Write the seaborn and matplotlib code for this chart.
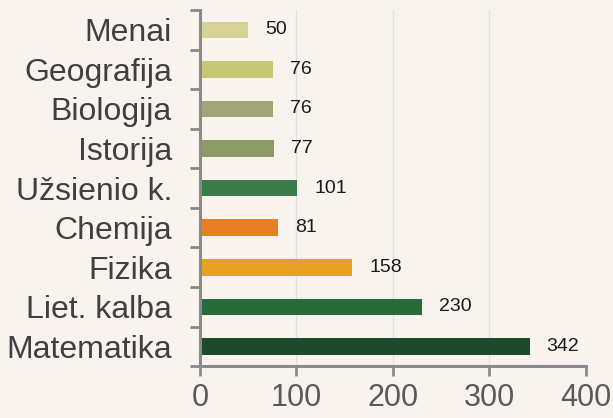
import numpy as np
import pandas as pd
import matplotlib
matplotlib.use("Agg")
import matplotlib.pyplot as plt
import seaborn as sns

subjects = ["Menai", "Geografija", "Biologija", "Istorija", "Užsienio k.",
            "Chemija", "Fizika", "Liet. kalba", "Matematika"]
counts = [50, 76, 76, 77, 101, 81, 158, 230, 342]
bar_colors = ["#D6D194", "#C8C874", "#A0A676", "#8C9A68", "#3A7A4B",
              "#E67F22", "#E8A221", "#2A6B3C", "#1D4A2B"]
x_ticks = [0, 100, 200, 300, 400]

BG = "#F8F4ED"
AXIS_GREY = "#8A8A8A"

sns.set_theme(style="white")
plt.rcParams["font.family"] = ["Liberation Sans", "DejaVu Sans"]

df = pd.DataFrame({"subject": subjects, "count": counts})

fig = plt.figure(figsize=(6.13, 4.18), dpi=100, facecolor=BG)
ax = fig.add_axes([0.326, 0.124, 0.630, 0.852])
ax.set_facecolor(BG)

sns.barplot(data=df, y="subject", x="count", hue="subject", palette=bar_colors,
            order=subjects, hue_order=subjects, orient="h", width=0.42,
            legend=False, ax=ax, saturation=1, linewidth=0)

for i, v in enumerate(counts):
    ax.annotate(str(v), (v, i), xytext=(12, 0), textcoords="offset points",
                ha="left", va="center", fontsize=14, color="#1a1a1a")

ax.set_xlim(0, 400)
ax.set_ylim(len(subjects) - 0.5, -0.5)
ax.set_xticks(x_ticks)
ax.set_xticklabels([str(t) for t in x_ticks], fontsize=22, color="#5a5a5a")
ax.set_yticks(range(len(subjects)))
ax.set_yticklabels(subjects, fontsize=23, color="#404040")
ax.set_yticks(np.arange(-0.5, len(subjects), 1.0), minor=True)

ax.tick_params(axis="y", which="major", left=False, length=0, pad=20)
ax.tick_params(axis="y", which="minor", left=True, length=7, width=2,
               color=AXIS_GREY, direction="out")
ax.tick_params(axis="x", which="major", bottom=True, length=7, width=2,
               color=AXIS_GREY, pad=5)

ax.set_xlabel("")
ax.set_ylabel("")
ax.xaxis.grid(True, color="#DEE0E6", linewidth=1)
ax.set_axisbelow(True)

for side in ["top", "right"]:
    ax.spines[side].set_visible(False)
for side in ["left", "bottom"]:
    ax.spines[side].set_color(AXIS_GREY)
    ax.spines[side].set_linewidth(2.2)

fig.savefig("out.png", dpi=100, facecolor=BG)
